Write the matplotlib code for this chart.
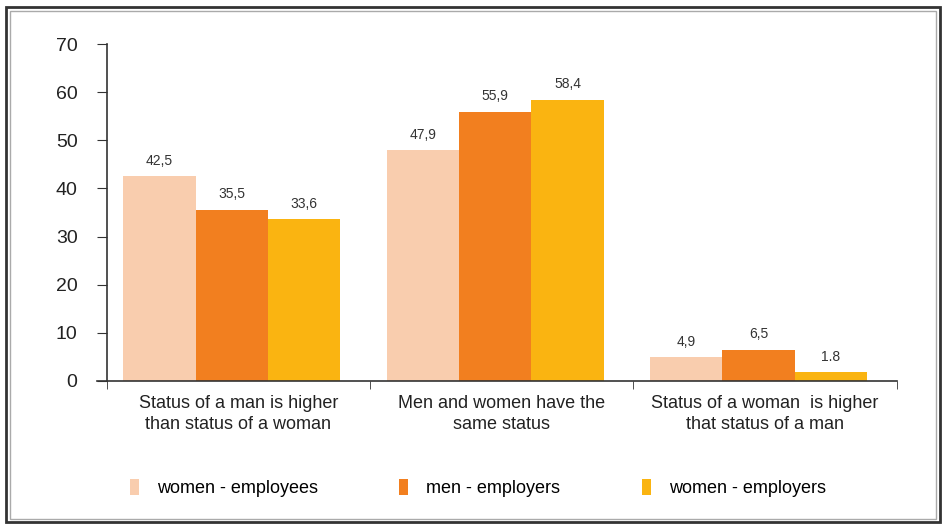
import matplotlib
matplotlib.use("Agg")
import matplotlib.pyplot as plt
from matplotlib.patches import Rectangle
import numpy as np

plt.rcParams['font.family'] = ['Liberation Sans', 'DejaVu Sans']

# data
categories = ["Status of a man is higher\nthan status of a woman",
              "Men and women have the\nsame status",
              "Status of a woman  is higher\nthat status of a man"]
series = ["women - employees", "men - employers", "women - employers"]
women_employees = [42.5, 47.9, 4.9]
men_employers = [35.5, 55.9, 6.5]
women_employers = [33.6, 58.4, 1.8]
labels = [["42,5", "47,9", "4,9"],
          ["35,5", "55,9", "6,5"],
          ["33,6", "58,4", "1.8"]]
colors = ["#F9CDAE", "#F27F1F", "#FAB411"]

fig = plt.figure(figsize=(9.46, 5.26), dpi=100)
ax = fig.add_axes([0.103, 0.2757, 0.845, 0.6406])

x = np.arange(len(categories))
w = 0.275
values = [women_employees, men_employers, women_employers]
for i, vals in enumerate(values):
    pos = x + (i - 1) * w - 0.025
    ax.bar(pos, vals, width=w, color=colors[i], label=series[i])
    for p, v, t in zip(pos, vals, labels[i]):
        ax.text(p, v + 1.8, t, ha='center', va='bottom', fontsize=10, color='#333333')

# x-axis starts a little left of the y-axis, as in the source
ax.set_xlim(-0.535, 2.5)
ax.spines['left'].set_position(('data', -0.5))
ax.set_ylim(0, 70)
ax.set_yticks(range(0, 71, 10))
ax.set_xticks(x)
ax.set_xticklabels(categories, fontsize=13, color='#222222', linespacing=1.3)
ax.set_xticks([-0.5, 0.5, 1.5, 2.5], minor=True)
ax.tick_params(axis='x', which='major', length=0, pad=10)
ax.tick_params(axis='x', which='minor', length=6, direction='out', color='#333333')
ax.tick_params(axis='y', length=7, direction='out', labelsize=14, color='#333333',
               labelcolor='#222222', pad=14)
for s in ['top', 'right']:
    ax.spines[s].set_visible(False)
for s in ['left', 'bottom']:
    ax.spines[s].set_color('#333333')
    ax.spines[s].set_linewidth(1.2)

handles, lbls = ax.get_legend_handles_labels()
fig.legend(handles, lbls, loc='center', bbox_to_anchor=(0.505, 0.072), ncol=3,
           frameon=False, fontsize=13, handlelength=0.5, handleheight=1.0,
           columnspacing=4.5, handletextpad=1.0)

# outer frame
fig.add_artist(Rectangle((0.006, 0.008), 0.988, 0.978, transform=fig.transFigure,
                         fill=False, edgecolor='#333333', linewidth=2))
fig.add_artist(Rectangle((0.011, 0.014), 0.978, 0.966, transform=fig.transFigure,
                         fill=False, edgecolor='#aaaaaa', linewidth=1))

fig.savefig("out.png", dpi=100)
